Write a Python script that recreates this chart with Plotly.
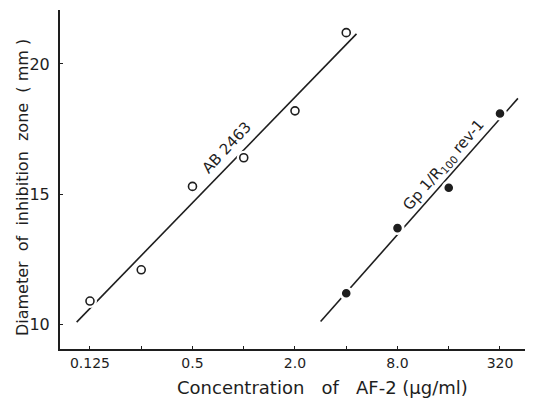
import numpy as np
import plotly.graph_objects as go

# ---- data ----
tick_conc = [0.125, 0.25, 0.5, 1, 2, 4, 8, 16, 32]
tick_labels = ["0.125", "", "0.5", "", "2.0", "", "8.0", "", "320"]

ab_conc = [0.125, 0.25, 0.5, 1, 2, 4]
ab_diam = [10.9, 12.1, 15.3, 16.4, 18.2, 21.2]

gp_conc = [4, 8, 16, 32]
gp_diam = [11.2, 13.7, 15.25, 18.1]

y_ticks = [10, 15, 20]


def pos(c):
    return np.log2(np.asarray(c, dtype=float) / tick_conc[0])


INK = "#1e1e1e"
FONT = "DejaVu Sans"

fig = go.Figure()


def add_series(conc, diam, filled, pad_l, pad_r):
    x = pos(conc)
    k, b = np.polyfit(x, diam, 1)
    xs = np.array([x.min() - pad_l, x.max() + pad_r])
    fig.add_trace(go.Scatter(x=xs, y=k * xs + b, mode="lines",
                             line=dict(color=INK, width=1.6),
                             hoverinfo="skip", showlegend=False))
    # white halo so the line breaks around each marker
    fig.add_trace(go.Scatter(x=x, y=diam, mode="markers",
                             marker=dict(size=14, color="white", line=dict(width=0)),
                             hoverinfo="skip", showlegend=False))
    fig.add_trace(go.Scatter(x=x, y=diam, mode="markers",
                             marker=dict(size=8 if not filled else 7,
                                         color=INK if filled else "white",
                                         line=dict(color=INK, width=1.6)),
                             showlegend=False))


add_series(ab_conc, ab_diam, False, 0.26, 0.2)
add_series(gp_conc, gp_diam, True, 0.5, 0.35)

fig.add_annotation(x=2.68, y=16.8, text="AB 2463", showarrow=False,
                   textangle=-47, font=dict(family=FONT, size=15, color=INK))
fig.add_annotation(x=6.9, y=16.1, text="Gp 1/R<sub>100</sub> rev-1", showarrow=False,
                   textangle=-49, font=dict(family=FONT, size=15, color=INK))

# axis titles
fig.add_annotation(xref="paper", yref="paper", x=0.556, y=-0.115,
                   xanchor="center", yanchor="middle",
                   text="Concentration   of   AF-2 (μg/ml)", showarrow=False,
                   font=dict(family=FONT, size=18, color=INK))
fig.add_annotation(xref="paper", yref="paper", x=-0.078, y=0.475,
                   xanchor="center", yanchor="middle",
                   text="Diameter  of  inhibition  zone  ( mm )", showarrow=False,
                   textangle=-90, font=dict(family=FONT, size=16, color=INK))

fig.update_xaxes(range=[-0.585, 8.644], tickvals=pos(tick_conc), ticktext=tick_labels,
                 showline=True, linewidth=2, linecolor=INK, ticks="inside",
                 ticklen=3, tickwidth=1, tickcolor=INK, showgrid=False, zeroline=False,
                 ticklabelstandoff=0,
                 tickfont=dict(family=FONT, size=14, color=INK))
fig.update_yaxes(range=[9.06, 22.07], tickvals=y_ticks,
                 showline=True, linewidth=2, linecolor=INK, ticks="inside",
                 ticklen=3, tickwidth=1, tickcolor=INK, showgrid=False, zeroline=False,
                 ticklabelstandoff=5,
                 tickfont=dict(family=FONT, size=16, color=INK))

# the page body adds an 8px offset, so the figure is 8px smaller on each side
fig.update_layout(width=525, height=392, margin=dict(l=52, r=0, t=2, b=51),
                  plot_bgcolor="white", paper_bgcolor="white", showlegend=False)

fig.write_html("out.html")
